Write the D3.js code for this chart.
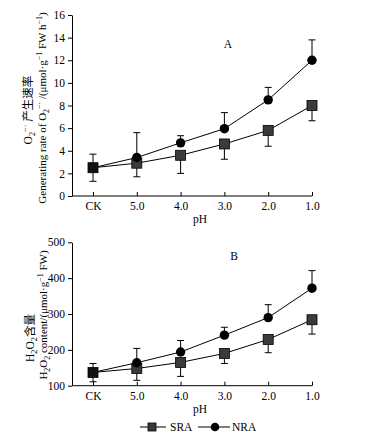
<!DOCTYPE html>
<html><head><meta charset="utf-8">
<script src="https://cdn.jsdelivr.net/npm/d3@7"></script>
<style>body{margin:0;background:#fff}</style>
</head><body>
<script>
const categories = ["CK","5.0","4.0","3.0","2.0","1.0"];
// Panel A: O2- generating rate
const o2SRA = [2.5, 2.9, 3.6, 4.6, 5.8, 8.0];
const o2NRA = [2.5, 3.4, 4.7, 5.95, 8.5, 12.0];
const o2SRAerr = [1.2, 1.2, 1.6, 1.35, 1.4, 1.35];   // drawn downward
const o2NRAerr = [1.2, 2.2, 0.63, 1.42, 1.1, 1.8];   // drawn upward
const o2Ticks = [0,2,4,6,8,10,12,14,16];
// Panel B: H2O2 content
const h2SRA = [137, 148, 165, 190, 229, 284];
const h2NRA = [137, 164, 194, 241, 290, 372];
const h2SRAerr = [26, 33, 39, 28, 37, 40];
const h2NRAerr = [25, 40, 32, 22, 36, 49];
const h2Ticks = [100,200,300,400,500];

const W = 384, H = 436;
const svg = d3.select("body").append("svg").attr("width", W).attr("height", H);
const serif = "'Liberation Serif','Noto Sans CJK SC',serif";

const x = d3.scalePoint().domain(categories).range([93, 312]);
const axisLeftX = 72;

function panel(opts) {
  const y = d3.scaleLinear().domain(opts.domain).range([opts.bottom, opts.top]);
  const g = svg.append("g");
  const ya = g.append("g").attr("transform", `translate(${axisLeftX},0)`)
    .call(d3.axisLeft(y).tickValues(opts.ticks).tickSize(4).tickPadding(3).tickSizeOuter(0));
  ya.selectAll("text").attr("font-family", serif).attr("font-size", 11.5).attr("fill", "#000");
  ya.selectAll("line,path").attr("stroke", "#000");
  const xa = g.append("g").attr("transform", `translate(0,${opts.bottom})`)
    .call(d3.axisBottom(x).tickSize(-4).tickPadding(6).tickSizeOuter(0));
  xa.select(".domain").remove();
  xa.selectAll("line").attr("stroke", "#000");
  xa.selectAll("text").attr("font-family", serif).attr("font-size", 11.5).attr("fill", "#000");
  g.append("line").attr("x1", axisLeftX).attr("x2", x.range()[1])
    .attr("y1", opts.bottom).attr("y2", opts.bottom).attr("stroke", "#000");
  g.append("text").attr("x", 200).attr("y", opts.bottom + 27).attr("text-anchor", "middle")
    .attr("font-family", serif).attr("font-size", 11.5).text("pH");
  g.append("text").attr("x", opts.letterX).attr("y", opts.letterY).attr("text-anchor", "middle")
    .attr("font-family", serif).attr("font-size", 11.5).text(opts.letter);

  const line = d3.line().x((d, i) => x(categories[i])).y(d => y(d));
  const cap = 3.5;
  function errs(vals, e, dir) {
    const eg = g.append("g").attr("stroke", "#000").attr("stroke-width", 1);
    vals.forEach((v, i) => {
      const cx = x(categories[i]);
      const end = y(v + dir * e[i]);
      eg.append("line").attr("x1", cx).attr("x2", cx).attr("y1", y(v)).attr("y2", end);
      eg.append("line").attr("x1", cx - cap).attr("x2", cx + cap).attr("y1", end).attr("y2", end);
    });
  }
  errs(opts.sra, opts.sraErr, -1);
  errs(opts.nra, opts.nraErr, 1);
  g.append("path").datum(opts.sra).attr("d", line).attr("fill", "none").attr("stroke", "#000");
  g.append("path").datum(opts.nra).attr("d", line).attr("fill", "none").attr("stroke", "#000");
  g.selectAll(null).data(opts.sra).join("rect")
    .attr("x", (d, i) => x(categories[i]) - 5).attr("y", d => y(d) - 5)
    .attr("width", 10).attr("height", 10)
    .attr("fill", (d, i) => i === 0 ? "#111" : "#3a3a3a").attr("stroke", "#000").attr("stroke-width", 0.8);
  g.selectAll(null).data(opts.nra).join("circle")
    .attr("cx", (d, i) => x(categories[i])).attr("cy", d => y(d)).attr("r", 4.7)
    .attr("fill", "#000").attr("display", (d, i) => i === 0 ? "none" : null);
  return g;
}

panel({domain: [0, 16], top: 15, bottom: 196, ticks: o2Ticks, sra: o2SRA, nra: o2NRA,
       sraErr: o2SRAerr, nraErr: o2NRAerr, letter: "A", letterX: 228, letterY: 48});
panel({domain: [100, 500], top: 242.3, bottom: 385.7, ticks: h2Ticks, sra: h2SRA, nra: h2NRA,
       sraErr: h2SRAerr, nraErr: h2NRAerr, letter: "B", letterX: 234, letterY: 260});

// y axis titles (rotated), sub/superscripts via dy offsets
function vtext(cx, cy, parts, fs) {
  const t = svg.append("text").attr("transform", `translate(${cx},${cy}) rotate(-90)`)
    .attr("text-anchor", "middle")
    .attr("font-family", serif).attr("font-size", fs).attr("fill", "#000");
  let shift = 0;
  parts.forEach(p => {
    const target = p.sub ? 3 : p.sup ? -4 : 0;
    const s = t.append("tspan").attr("dy", target - shift).text(p.t);
    shift = target;
    if (p.sub || p.sup) s.attr("font-size", fs * 0.72);
  });
}
vtext(32, 110, [{t: "O"}, {t: "2", sub: 1}, {t: "−·", sup: 1}, {t: " 产生速率"}], 11.5);
vtext(46, 108, [{t: "Generating rate of O"}, {t: "2", sub: 1}, {t: "−·", sup: 1},
  {t: " /(μmol·g"}, {t: "−1", sup: 1}, {t: " FW h"}, {t: "−1", sup: 1}, {t: ")"}], 11);
vtext(34, 338, [{t: "H"}, {t: "2", sub: 1}, {t: "O"}, {t: "2", sub: 1}, {t: "含量"}], 11.5);
vtext(47, 315, [{t: "H"}, {t: "2", sub: 1}, {t: "O"}, {t: "2", sub: 1}, {t: " content/(μmol·g"},
  {t: "−1", sup: 1}, {t: " FW)"}], 11);

// legend
const ly = 427;
const lg = svg.append("g");
lg.append("line").attr("x1", 140).attr("x2", 166).attr("y1", ly).attr("y2", ly).attr("stroke", "#000");
lg.append("rect").attr("x", 148).attr("y", ly - 4).attr("width", 8).attr("height", 8)
  .attr("fill", "#3a3a3a").attr("stroke", "#000").attr("stroke-width", 0.8);
lg.append("text").attr("x", 170).attr("y", ly).attr("dy", "0.35em").attr("font-family", serif)
  .attr("font-size", 11.5).text("SRA");
lg.append("line").attr("x1", 198).attr("x2", 230).attr("y1", ly).attr("y2", ly).attr("stroke", "#000");
lg.append("circle").attr("cx", 215).attr("cy", ly).attr("r", 4.3).attr("fill", "#000");
lg.append("text").attr("x", 232).attr("y", ly).attr("dy", "0.35em").attr("font-family", serif)
  .attr("font-size", 11.5).text("NRA");
</script>
</body></html>
